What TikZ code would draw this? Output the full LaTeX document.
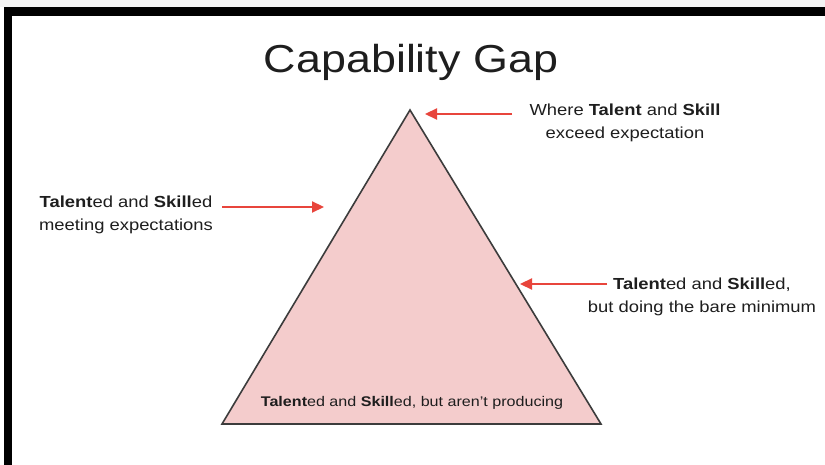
\documentclass[tikz,border=0pt]{standalone}
\usepackage{fontspec}
\usepackage{graphicx}
\setmainfont{Liberation Sans}
\usetikzlibrary{arrows.meta}

\definecolor{pinkfill}{HTML}{F4CCCC}
\definecolor{edgegrey}{HTML}{3C3C3C}
\definecolor{arrowred}{HTML}{E8453C}
\definecolor{inkgrey}{HTML}{1E1E1E}
\definecolor{stripgrey}{HTML}{F4F4F4}

% two-line label, slightly widened like the slide lettering
\newcommand{\twoline}[2]{\scalebox{1.15}[1]{\begin{tabular}[t]{@{}c@{}}#1\\#2\end{tabular}}}
\newcommand{\oneline}[1]{\scalebox{1.15}[1]{#1}}

\begin{document}
\begin{tikzpicture}[x=1pt, y=-1pt,
  lbl/.style={inner sep=0pt, anchor=base, text=inkgrey,
    font=\fontsize{16}{23}\selectfont},
  pointer/.style={draw=arrowred, line width=2.2pt,
    -{Triangle[length=12pt,width=11pt]}},
  frame/.style={fill=black, draw=none}]

  % canvas and frame
  \useasboundingbox (0,0) rectangle (825,465);
  \fill[white] (0,0) rectangle (825,465);
  \fill[stripgrey] (0,0) rectangle (825,7);
  \path[frame] (4,7) rectangle (825,16);
  \path[frame] (4,7) rectangle (12,465);

  % title
  \node[inner sep=0pt, anchor=base, text=inkgrey,
        font=\fontsize{39}{44}\selectfont] (title) at (411,73)
        {\oneline{Capability Gap}};

  % pyramid
  \coordinate (apex) at (410,110);
  \coordinate (baseL) at (222,424);
  \coordinate (baseR) at (601,424);
  \draw[fill=pinkfill, draw=edgegrey, line width=1.6pt, line join=miter]
    (apex) -- (baseR) -- (baseL) -- cycle;

  % labels
  \node[lbl] (top) at (625,116)
    {\twoline{Where \textbf{Talent} and \textbf{Skill}}{exceed expectation}};
  \node[lbl] (left) at (126,208)
    {\twoline{\textbf{Talent}ed and \textbf{Skill}ed}{meeting expectations}};
  \node[lbl] (right) at (702,290)
    {\twoline{\textbf{Talent}ed and \textbf{Skill}ed,}{but doing the bare minimum}};
  \node[lbl, font=\fontsize{14}{18}\selectfont] (bottom) at (412,406)
    {\oneline{\textbf{Talent}ed and \textbf{Skill}ed, but aren't producing}};

  % pointers
  \coordinate (topTail) at (512,114);
  \coordinate (topTip) at (425,114);
  \coordinate (leftTail) at (222,207);
  \coordinate (leftTip) at (324,207);
  \coordinate (rightTail) at (607,284);
  \coordinate (rightTip) at (520,284);
  \draw[pointer] (topTail) -- (topTip);
  \draw[pointer] (leftTail) -- (leftTip);
  \draw[pointer] (rightTail) -- (rightTip);
\end{tikzpicture}
\end{document}
